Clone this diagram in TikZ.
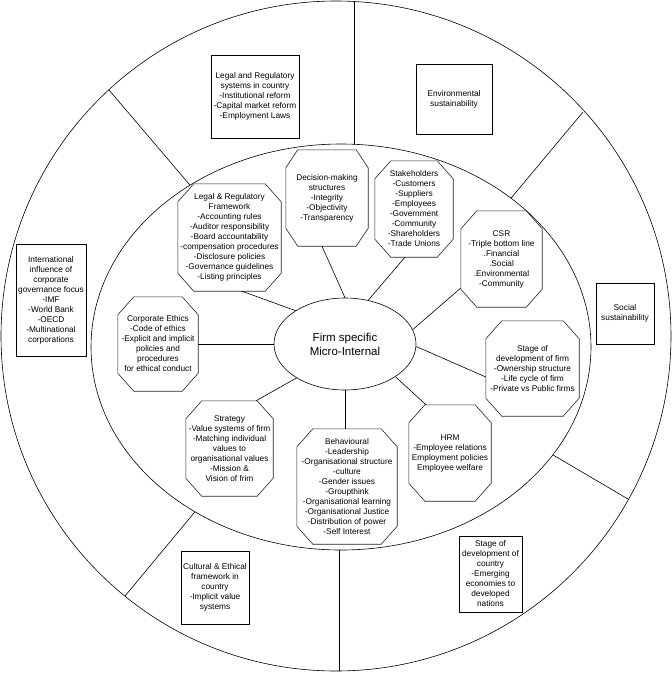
\documentclass[tikz,border=0pt]{standalone}
\usepackage{fontspec}
\setmainfont{Liberation Sans}
\usetikzlibrary{shapes.geometric}
\tikzset{
  thin line/.style={line width=0.6pt, draw=black},
  txt/.style={align=center, inner sep=1pt, font=\fontsize{8.3}{10}\selectfont},
  obox/.style={txt, draw, line width=0.6pt},
  octnode/.style={txt, draw=none},
  octline/.style={line width=0.6pt, draw=black!85},
  link/.style={line width=0.6pt},
  core/.style={ellipse, draw, line width=0.6pt, inner sep=0pt, align=center,
    font=\fontsize{11.5}{14}\selectfont, fill=white}
}
\newcommand\octo[2][16]{%
  \draw[octline] ([xshift=#1pt]#2.north west) -- ([xshift=-#1pt]#2.north east)
    -- ([yshift=-18pt]#2.north east) -- ([yshift=18pt]#2.south east)
    -- ([xshift=-#1pt]#2.south east) -- ([xshift=#1pt]#2.south west)
    -- ([yshift=18pt]#2.south west) -- ([yshift=-18pt]#2.north west) -- cycle;}
\begin{document}
\begin{tikzpicture}[x=1pt, y=-1pt]
\useasboundingbox (0,0) rectangle (672,673);
% radial dividing lines
\draw[thin line] (354,150) -- (354,1);
\draw[thin line] (195,191) -- (109,90);
\draw[thin line] (507,203) -- (583,112);
\draw[thin line] (548,452) -- (628,499);
\draw[thin line] (339,545) -- (339,671);
\draw[thin line] (199,507) -- (125,596);
% rings
\draw[thin line, fill=white] (341,347) ellipse[x radius=250, y radius=203];
\draw[thin line] (336,336) circle[radius=335];

% outer boxes
\node[obox, minimum width=88pt, minimum height=83pt] (legsys) at (255,96.5)
  {Legal and Regulatory\\systems in country\\-Institutional reform\\-Capital market reform\\-Employment Laws};
\node[obox, minimum width=76pt, minimum height=70pt] (env) at (454,99)
  {Environmental\\sustainability};
\node[obox, minimum width=70pt, minimum height=112pt] (intl) at (51,300)
  {International\\influence of\\corporate\\governance focus\\-IMF\\-World Bank\\-OECD\\-Multinational\\corporations};
\node[obox, minimum width=58pt, minimum height=61pt] (social) at (625,313.5)
  {Social\\sustainability};
\node[obox, minimum width=68pt, minimum height=73pt] (cultural) at (215,587.5)
  {Cultural \& Ethical\\framework in\\country\\-Implicit value\\systems};
\node[obox, minimum width=63pt, minimum height=76pt] (stagecountry) at (490.5,574)
  {Stage of\\development of\\country\\-Emerging\\economies to\\developed\\nations};

% centre
\node[core, minimum width=142pt, minimum height=92pt] (c) at (345,344)
  {Firm specific\\Micro-Internal};

% octagons
\node[octnode, minimum width=82pt, minimum height=96pt] (dm) at (327,198)
  {Decision-making\\structures\\-Integrity\\-Objectivity\\-Transparency};
\octo[12]{dm}
\node[octnode, minimum width=78pt, minimum height=96pt] (stake) at (414,209)
  {Stakeholders\\-Customers\\-Suppliers\\-Employees\\-Government\\-Community\\-Shareholders\\-Trade Unions};
\octo{stake}
\node[octnode, minimum width=103pt, minimum height=107pt] (legfw) at (229.5,237.5)
  {Legal \& Regulatory\\Framework\\-Accounting rules\\-Auditor responsibility\\-Board accountability\\-compensation procedures\\-Disclosure policies\\-Governance guidelines\\-Listing principles};
\octo{legfw}
\node[octnode, minimum width=81pt, minimum height=96pt] (csr) at (501.5,259)
  {CSR\\-Triple bottom line\\.Financial\\.Social\\.Environmental\\-Community};
\octo{csr}
\node[octnode, minimum width=80pt, minimum height=94pt] (ethics) at (158,344)
  {Corporate Ethics\\-Code of ethics\\-Explicit and implicit\\policies and\\procedures\\for ethical conduct};
\octo{ethics}
\node[octnode, minimum width=93pt, minimum height=95pt] (stagefirm) at (532.5,368.5)
  {Stage of\\development of firm\\-Ownership structure\\-Life cycle of firm\\-Private vs Public firms};
\octo{stagefirm}
\node[octnode, minimum width=87pt, minimum height=95pt] (strategy) at (229.5,448.5)
  {Strategy\\-Value systems of firm\\-Matching individual\\values to\\organisational values\\-Mission \&\\Vision of frim};
\octo{strategy}
\node[octnode, minimum width=100pt, minimum height=115pt] (behav) at (347,486.5)
  {Behavioural\\-Leadership\\-Organisational structure\\-culture\\-Gender issues\\-Groupthink\\-Organisational learning\\-Organisational Justice\\-Distribution of power\\-Self Interest};
\octo{behav}
\node[octnode, minimum width=82pt, minimum height=96pt] (hrm) at (450,453)
  {HRM\\-Employee relations\\Employment policies\\Employee welfare};
\octo{hrm}

% connectors
\draw[link] (c.90) -- ([xshift=-5pt]dm.south);
\draw[link] (c.62) -- ([xshift=-9pt]stake.south);
\draw[link] (c.146) -- ([xshift=12.5pt]legfw.south);
\draw[link] (c.12) -- ([yshift=-29pt]csr.west);
\draw[link] (c.west) -- (ethics.east);
\draw[link] (c.-2) -- ([yshift=-8.5pt]stagefirm.west);
\draw[link] (c.215) -- ([xshift=26.5pt]strategy.north);
\draw[link] (c.south) -- (c.south |- behav.north);
\draw[link] (c.-33) -- ([xshift=-24pt]hrm.north);
\end{tikzpicture}
\end{document}
